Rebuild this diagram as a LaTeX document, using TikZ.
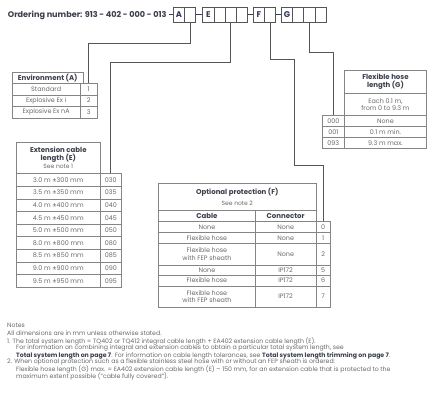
\documentclass[tikz,border=0pt]{standalone}
\usepackage{fontspec}
\setmainfont{Poppins}
\definecolor{ln}{HTML}{858585}
\definecolor{cn}{HTML}{555555}
\definecolor{tx}{HTML}{6A6A6A}
\definecolor{hd}{HTML}{3A3F4A}
\definecolor{nv}{HTML}{2E3D5C}
\begin{document}
\begin{tikzpicture}[x=1pt,y=-1pt,
  cell/.style={draw=ln, line width=0.6pt, inner sep=0pt, anchor=north west, align=center, text=tx, font=\fontsize{6.4}{7.4}\selectfont},
  hcell/.style={cell, text=hd, font=\bfseries\fontsize{7}{8}\selectfont},
  obox/.style={draw=cn, line width=0.7pt, anchor=north west, minimum width=11.2pt, minimum height=14.4pt, inner sep=0pt, font=\bfseries\fontsize{8.3}{9}\selectfont, text=nv},
  conn/.style={draw=cn, line width=0.7pt},
  dashln/.style={draw=hd, line width=1pt},
  note/.style={anchor=base west, inner sep=0pt, text=tx, font=\fontsize{6.2}{7}\selectfont}]
\useasboundingbox[fill=white] (0,0) rectangle (439,400);

% ordering number
\node[obox] (A1) at (173,7.3) {A};
\node[obox] (A2) at (184.2,7.3) {};
\node[obox] (E1) at (202.3,7.3) {E};
\node[obox] (E2) at (213.5,7.3) {};
\node[obox] (E3) at (224.7,7.3) {};
\node[obox] (E4) at (235.9,7.3) {};
\node[obox] (F1) at (253,7.3) {F};
\node[obox] (F2) at (264.2,7.3) {};
\node[obox] (G1) at (281,7.3) {G};
\node[obox] (G2) at (292.2,7.3) {};
\node[obox] (G3) at (303.4,7.3) {};
\node[obox] (G4) at (314.6,7.3) {};
\node[anchor=base east, inner sep=0pt, text=hd, font=\bfseries\fontsize{8.1}{9}\selectfont] (ord) at (166.8,17.5) {Ordering number: 913 - 402 - 000 - 013};
\draw[dashln] ([xshift=1.8pt]ord.east |- A1.west) -- (A1.west);
\draw[dashln] (A2.east) -- (E1.west);
\draw[dashln] (E4.east) -- (F1.west);
\draw[dashln] (F2.east) -- (G1.west);

% Environment table
\node[hcell, minimum width=71.3, minimum height=11.3] (envh) at (11.7,71.7) {Environment (A)};
\node[cell, minimum width=68.3, minimum height=11.5] (env1) at (11.7,83) {Standard};
\node[cell, minimum width=16.7, minimum height=11.5] (envc1) at (80,83) {1};
\node[cell, minimum width=68.3, minimum height=11.5] (env2) at (11.7,94.5) {Explosive Ex i};
\node[cell, minimum width=16.7, minimum height=11.5] (envc2) at (80,94.5) {2};
\node[cell, minimum width=68.3, minimum height=11.5] (env3) at (11.7,106) {Explosive Ex nA};
\node[cell, minimum width=16.7, minimum height=11.5] (envc3) at (80,106) {3};

% Extension cable table
\node[hcell, minimum width=84, minimum height=31.6] (exth) at (16,141.7) {Extension cable\\length (E)\\{\mdseries\color{tx}\fontsize{6}{7}\selectfont See note 1}};
\foreach \t/\c [count=\i from 0] in {3.0 m ±300 mm/030, 3.5 m ±350 mm/035, 4.0 m ±400 mm/040, 4.5 m ±450 mm/045, 5.0 m ±500 mm/050, 8.0 m ±800 mm/080, 8.5 m ±850 mm/085, 9.0 m ±900 mm/090, 9.5 m ±950 mm/095}{
  \node[cell, minimum width=84, minimum height=12.6] (ext\i) at (16,{173.3+12.6*\i}) {\t};
  \node[cell, minimum width=21, minimum height=12.6] (extc\i) at (100,{173.3+12.6*\i}) {\c};
}

% Optional protection table
\node[hcell, minimum width=157.4, minimum height=26.7] (opth) at (158.3,183.3) {Optional protection (F)\\[3pt]{\mdseries\color{tx}\fontsize{6}{7}\selectfont See note 2}};
\node[hcell, minimum width=96.7, minimum height=11] (optca) at (158.3,210) {Cable};
\node[hcell, minimum width=60.7, minimum height=11] (optco) at (255,210) {Connector};
\node[cell, minimum width=96.7, minimum height=11] (o1) at (158.3,221) {None};
\node[cell, minimum width=60.7, minimum height=11] (p1) at (255,221) {None};
\node[cell, minimum width=14.3, minimum height=11] (q1) at (315.7,221) {0};
\node[cell, minimum width=96.7, minimum height=11] (o2) at (158.3,232) {Flexible hose};
\node[cell, minimum width=60.7, minimum height=11] (p2) at (255,232) {None};
\node[cell, minimum width=14.3, minimum height=11] (q2) at (315.7,232) {1};
\node[cell, minimum width=96.7, minimum height=21.5] (o3) at (158.3,243) {Flexible hose\\with FEP sheath};
\node[cell, minimum width=60.7, minimum height=21.5] (p3) at (255,243) {None};
\node[cell, minimum width=14.3, minimum height=21.5] (q3) at (315.7,243) {2};
\node[cell, minimum width=96.7, minimum height=10.5] (o4) at (158.3,264.5) {None};
\node[cell, minimum width=60.7, minimum height=10.5] (p4) at (255,264.5) {IP172};
\node[cell, minimum width=14.3, minimum height=10.5] (q4) at (315.7,264.5) {5};
\node[cell, minimum width=96.7, minimum height=10.5] (o5) at (158.3,275) {Flexible hose};
\node[cell, minimum width=60.7, minimum height=10.5] (p5) at (255,275) {IP172};
\node[cell, minimum width=14.3, minimum height=10.5] (q5) at (315.7,275) {6};
\node[cell, minimum width=96.7, minimum height=21.5] (o6) at (158.3,285.5) {Flexible hose\\with FEP sheath};
\node[cell, minimum width=60.7, minimum height=21.5] (p6) at (255,285.5) {IP172};
\node[cell, minimum width=14.3, minimum height=21.5] (q6) at (315.7,285.5) {7};

% Flexible hose length table
\node[hcell, minimum width=81.7, minimum height=23.3] (gh) at (344.3,70) {Flexible hose\\length (G)};
\node[cell, minimum width=81.7, minimum height=21.7] (gd) at (344.3,93.3) {Each 0.1 m,\\from 0 to 9.3 m};
\node[cell, minimum width=22.6, minimum height=11] (gc1) at (321.7,115) {000};
\node[cell, minimum width=81.7, minimum height=11] (g1) at (344.3,115) {None};
\node[cell, minimum width=22.6, minimum height=11] (gc2) at (321.7,126) {001};
\node[cell, minimum width=81.7, minimum height=11] (g2) at (344.3,126) {0.1 m min.};
\node[cell, minimum width=22.6, minimum height=11] (gc3) at (321.7,137) {093};
\node[cell, minimum width=81.7, minimum height=11] (g3) at (344.3,137) {9.3 m max.};

% connectors
\draw[conn] (A2.south) -- ++(0,21.3) -| (envc1.north);
\draw[conn] (E3.south) -- ++(0,40) -| (extc0.north);
\draw[conn] (F2.south) -- ++(0,36.6) -- ++(24,0) -- ++(0,106.7) -| (q1.north);
\draw[conn] (G3.south) -- ++(0,30) -| (gc1.north);

% notes
\node[note] (n0) at (7,327) {Notes};
\node[note] (n1) at (7,335.3) {All dimensions are in mm unless otherwise stated.};
\node[note] (n2) at (7,343) {1. The total system length = TQ402 or TQ412 integral cable length + EA402 extension cable length (E).};
\node[note] (n3) at (16,349.7) {For information on combining integral and extension cables to obtain a particular total system length, see};
\node[note] (n4) at (16,357) {{\color{hd}\bfseries Total system length on page 7}. For information on cable length tolerances, see {\color{hd}\bfseries Total system length trimming on page 7}.};
\node[note] (n5) at (7,363.7) {2. When optional protection such as a flexible stainless steel hose with or without an FEP sheath is ordered:};
\node[note] (n6) at (16,371.3) {Flexible hose length (G) max. = EA402 extension cable length (E) – 150 mm, for an extension cable that is protected to the};
\node[note] (n7) at (16,378.7) {maximum extent possible (“cable fully covered”).};
\end{tikzpicture}
\end{document}
